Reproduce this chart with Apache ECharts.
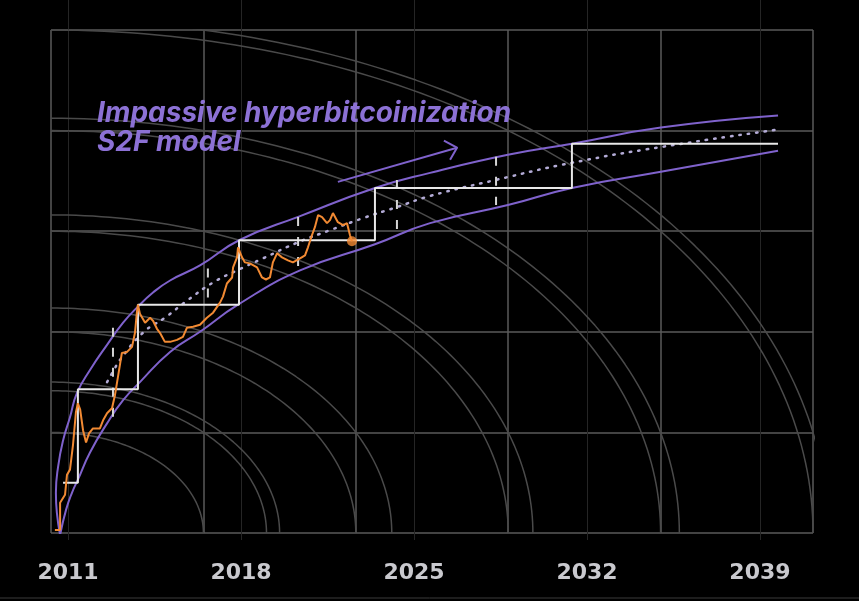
<!DOCTYPE html>
<html><head><meta charset="utf-8">
<script src="https://cdn.jsdelivr.net/npm/echarts@6/dist/echarts.min.js"></script>
<style>html,body{margin:0;padding:0;background:#000;}#c{width:859px;height:601px;}</style>
</head><body><div id="c"></div>
<script>
// ---- data (x in years, y in grid-square units: 0 = bottom, 5 = top) ----
const yearTicks = [2011, 2018, 2025, 2032, 2039];
const priceYears = [2010.47, 2010.68, 2010.68, 2010.88, 2010.96, 2011.08, 2011.20, 2011.32, 2011.40, 2011.49,
  2011.61, 2011.73, 2011.85, 2012.01, 2012.29, 2012.42, 2012.58, 2012.78, 2012.90, 2013.02,
  2013.18, 2013.39, 2013.59, 2013.71, 2013.79, 2013.83, 2013.91, 2014.12, 2014.32, 2014.44,
  2014.60, 2014.72, 2014.92, 2015.13, 2015.41, 2015.65, 2015.81, 2016.06, 2016.34, 2016.62,
  2016.87, 2017.15, 2017.27, 2017.43, 2017.64, 2017.68, 2017.84, 2017.88, 2018.04, 2018.16,
  2018.36, 2018.65, 2018.85, 2019.01, 2019.17, 2019.29, 2019.46, 2019.66, 2019.90, 2020.10,
  2020.39, 2020.59, 2020.71, 2020.87, 2020.99, 2021.12, 2021.28, 2021.48, 2021.60, 2021.72,
  2021.92, 2022.13, 2022.29, 2022.41, 2022.49];
const priceLevels = [0.03, 0.03, 0.30, 0.38, 0.58, 0.63, 0.87, 1.20, 1.29, 1.23,
  1.02, 0.90, 0.99, 1.04, 1.04, 1.12, 1.19, 1.24, 1.37, 1.55,
  1.79, 1.80, 1.85, 1.99, 2.20, 2.27, 2.18, 2.09, 2.14, 2.11,
  2.03, 1.99, 1.90, 1.90, 1.92, 1.95, 2.04, 2.05, 2.07, 2.14,
  2.19, 2.29, 2.35, 2.48, 2.54, 2.64, 2.74, 2.84, 2.74, 2.69,
  2.68, 2.64, 2.54, 2.52, 2.54, 2.69, 2.78, 2.74, 2.71, 2.69,
  2.73, 2.76, 2.84, 2.96, 3.04, 3.16, 3.14, 3.08, 3.11, 3.18,
  3.09, 3.06, 3.08, 2.96, 2.90];
const stepYears = [2010.80, 2011.40, 2013.83, 2017.92, 2023.42, 2031.39, 2039.73];
const stepLevels = [0.50, 1.43, 2.27, 2.91, 3.43, 3.87, 3.87];
const modelYears = [2012.58, 2012.90, 2013.10, 2014.03, 2014.92, 2015.82, 2016.87, 2017.84, 2018.89,
  2020.31, 2021.60, 2022.94, 2024.31, 2025.65, 2028.32, 2031.39, 2035.08, 2039.73];
const modelLevels = [1.50, 1.64, 1.72, 1.99, 2.14, 2.31, 2.49, 2.61, 2.73,
  2.89, 3.01, 3.13, 3.24, 3.35, 3.51, 3.68, 3.84, 4.01];
const upperYears = [2010.68, 2010.55, 2010.51, 2010.60, 2010.80, 2011.08, 2011.36, 2011.89, 2012.58, 2013.23,
  2013.79, 2014.44, 2015.13, 2016.34, 2017.92, 2020.39, 2023.42, 2025.65, 2028.80, 2031.39, 2034.99, 2039.73];
const upperLevels = [-0.02, 0.20, 0.40, 0.66, 0.92, 1.15, 1.39, 1.62, 1.87, 2.09,
  2.24, 2.39, 2.51, 2.66, 2.91, 3.15, 3.43, 3.58, 3.76, 3.87, 4.03, 4.15];
const lowerYears = [2010.68, 2010.92, 2011.16, 2011.40, 2011.89, 2012.58, 2013.23, 2013.91, 2015.13, 2016.34,
  2017.88, 2020.39, 2023.42, 2025.65, 2028.80, 2031.39, 2034.99, 2039.73];
const lowerLevels = [-0.02, 0.23, 0.40, 0.53, 0.80, 1.09, 1.32, 1.50, 1.80, 2.00,
  2.27, 2.61, 2.87, 3.08, 3.26, 3.43, 3.59, 3.80];
const halvingYears = [2012.82, 2016.66, 2020.31, 2024.31, 2028.32];
const halvingHigh = [2.04, 2.63, 3.14, 3.51, 3.74];
const halvingLow = [1.15, 2.31, 2.61, 3.01, 3.26];
const arcRadii = [1, 1.414, 1.5, 2, 2.236, 3, 3.162, 4, 4.123, 5, 5.099];
const titleLines = ['Impassive hyperbitcoinization', 'S2F model'];
const arrowYears = [2021.92, 2026.74];
const arrowLevels = [3.49, 3.83];
const arrowHeadYears = [2026.21, 2026.74, 2026.46];
const arrowHeadLevels = [3.90, 3.83, 3.71];

// ---- styles ----
const PURPLE = '#7f62cc';
const TEXT_PURPLE = '#8c71d5';
const ORANGE = '#f28a33';
const GRID = '#5a5a5a';
const ARC = '#4a4a4a';
const X_MIN = 2010.312, X_MAX = 2041.145;

const zip = (xs, ys) => xs.map((x, i) => [x, ys[i]]);
const arcPoints = r => { const p = []; for (let a = 0; a <= 90; a += 1) { const t = a * Math.PI / 180; p.push([r * Math.cos(t), r * Math.sin(t)]); } return p; };

const series = [];
arcRadii.forEach(r => series.push({ type: 'line', xAxisIndex: 1, yAxisIndex: 1, data: arcPoints(r), showSymbol: false, silent: true, lineStyle: { color: ARC, width: 1.5 }, z: 1 }));
series.push({ type: 'line', data: zip(upperYears, upperLevels), smooth: 0.5, showSymbol: false, lineStyle: { color: PURPLE, width: 2 }, z: 3 });
series.push({ type: 'line', data: zip(lowerYears, lowerLevels), smooth: 0.5, showSymbol: false, lineStyle: { color: PURPLE, width: 2 }, z: 3 });
series.push({ type: 'line', data: zip(modelYears, modelLevels), smooth: true, showSymbol: false, lineStyle: { color: '#b3abd6', width: 2.5, type: [1.5, 7], cap: 'round' }, z: 3 });
halvingYears.forEach((y, i) => series.push({ type: 'line', data: [[y, halvingHigh[i]], [y, halvingLow[i]]], showSymbol: false, lineStyle: { color: '#d4d4d4', width: 2, type: [9, 11] }, z: 4 }));
series.push({ type: 'line', data: zip(stepYears, stepLevels), step: 'end', showSymbol: false, lineStyle: { color: '#e8e8e8', width: 2 }, z: 5 });
series.push({ type: 'line', data: zip(priceYears, priceLevels), showSymbol: false, lineStyle: { color: ORANGE, width: 2 }, z: 6 });
series.push({ type: 'scatter', data: [[priceYears[priceYears.length - 1], priceLevels[priceLevels.length - 1]]], symbolSize: 10, itemStyle: { color: ORANGE }, z: 7 });
series.push({ type: 'line', data: zip(arrowYears, arrowLevels), showSymbol: false, lineStyle: { color: PURPLE, width: 2 }, z: 6 });
series.push({ type: 'line', data: zip(arrowHeadYears, arrowHeadLevels), showSymbol: false, lineStyle: { color: PURPLE, width: 2, join: 'round' }, z: 6 });

const chart = echarts.init(document.getElementById('c'), null, { renderer: 'canvas' });
chart.setOption({
  backgroundColor: '#000',
  animation: false,
  grid: [
    { left: 51, right: 46, top: 30, bottom: 68 },
    { left: 51, right: 46, top: 0, bottom: 61 }
  ],
  xAxis: [
    { gridIndex: 0, type: 'value', min: X_MIN, max: X_MAX, show: false },
    { gridIndex: 0, type: 'value', min: 0, max: 5, interval: 1, axisLine: { show: false }, axisTick: { show: false }, axisLabel: { show: false }, splitLine: { show: true, lineStyle: { color: GRID, width: 1.5 } } },
    { gridIndex: 1, type: 'value', min: X_MIN, max: X_MAX, axisLine: { show: false },
      axisTick: { show: false, customValues: yearTicks },
      splitLine: { show: true, lineStyle: { color: '#252525', width: 1 } },
      axisLabel: { show: true, customValues: yearTicks, margin: 22, color: '#c9c9ce', fontSize: 22, fontWeight: 'bold', fontFamily: 'DejaVu Sans', formatter: v => String(v) } }
  ],
  yAxis: [
    { gridIndex: 0, type: 'value', min: 0, max: 5, show: false },
    { gridIndex: 0, type: 'value', min: 0, max: 5, interval: 1, axisLine: { show: false }, axisTick: { show: false }, axisLabel: { show: false }, splitLine: { show: true, lineStyle: { color: GRID, width: 1.5 } } },
    { gridIndex: 1, type: 'value', min: 0, max: 1, show: false }
  ],
  graphic: [
    { type: 'text', left: 97, top: 99, z: 10, style: { text: titleLines.join('\n'), fill: TEXT_PURPLE, fontSize: 28, fontWeight: 'bold', fontStyle: 'italic', fontFamily: 'Inter', lineHeight: 29 } },
    { type: 'line', shape: { x1: 0, y1: 598, x2: 859, y2: 598 }, style: { stroke: '#3a3a3a', lineWidth: 1 } }
  ],
  series: series
});
</script></body></html>
